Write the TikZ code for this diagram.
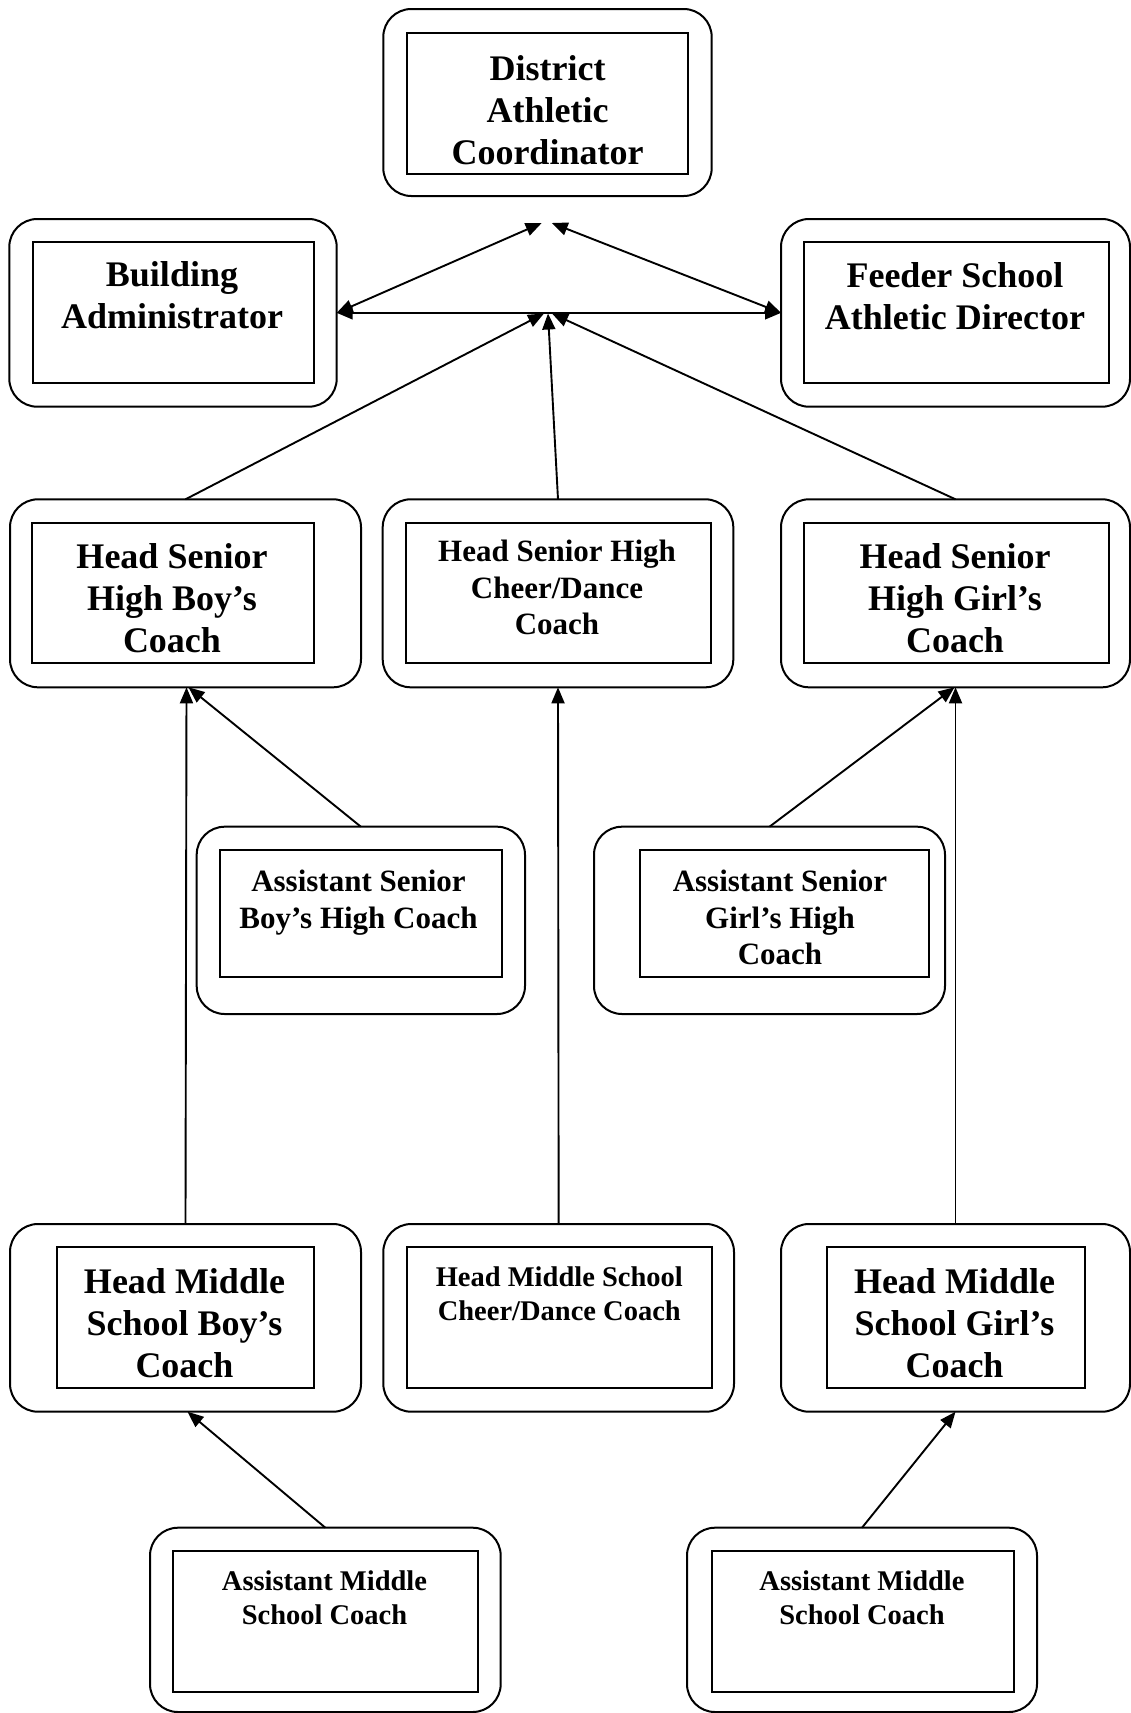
\documentclass[tikz,border=0pt]{standalone}
\usepackage{fontspec}
\setmainfont{Liberation Serif}
\usetikzlibrary{arrows.meta}
\newcommand\boxtext[1]{\begin{tabular}[t]{@{}c@{}}#1\end{tabular}}
\newcommand\tbig{\fontsize{36}{42}\selectfont\bfseries}
\newcommand\tmid{\fontsize{31}{36.5}\selectfont\bfseries}
\newcommand\tsml{\fontsize{28.5}{34}\selectfont\bfseries}
\begin{document}
\begin{tikzpicture}[x=1pt,y=-1pt,
  outerbox/.style={draw, line width=2pt, rounded corners=28pt, inner sep=0pt, outer sep=0pt},
  innerbox/.style={draw, line width=2pt, inner sep=0pt, outer sep=0pt},
  label/.style={anchor=base, inner sep=0pt, outer sep=0pt},
  conn/.style={line width=1.9pt},
  arr/.style={conn, -{Triangle[length=16pt,width=13pt]}},
  darr/.style={conn, {Triangle[length=16pt,width=13pt]}-{Triangle[length=16pt,width=13pt]}}]
\useasboundingbox (0,0) rectangle (1131,1713);

% outer rounded boxes
\node[outerbox, minimum width=328.4pt, minimum height=187pt]   (DAC) at (547.5,102.5) {};
\node[outerbox, minimum width=327.4pt, minimum height=187.7pt] (BA)  at (173,312.85) {};
\node[outerbox, minimum width=349pt,   minimum height=187.7pt] (FS)  at (955.5,312.85) {};
\node[outerbox, minimum width=351pt,   minimum height=188pt]   (HSB) at (185.5,593.3) {};
\node[outerbox, minimum width=350.6pt, minimum height=188pt]   (HSC) at (558,593.3) {};
\node[outerbox, minimum width=349pt,   minimum height=188pt]   (HSG) at (955.5,593.3) {};
\node[outerbox, minimum width=328.3pt, minimum height=187.3pt] (ASB) at (360.85,920.35) {};
\node[outerbox, minimum width=351pt,   minimum height=187.3pt] (ASG) at (769.5,920.35) {};
\node[outerbox, minimum width=351pt,   minimum height=187.7pt] (HMB) at (185.5,1317.85) {};
\node[outerbox, minimum width=350.7pt, minimum height=187.7pt] (HMC) at (558.65,1317.85) {};
\node[outerbox, minimum width=349pt,   minimum height=187.7pt] (HMG) at (955.5,1317.85) {};
\node[outerbox, minimum width=350.7pt, minimum height=184.3pt] (AMB) at (325.35,1619.85) {};
\node[outerbox, minimum width=350pt,   minimum height=184.3pt] (AMG) at (862,1619.85) {};

% inner rectangles
\node[innerbox, minimum width=281.6pt, minimum height=140.7pt] (DACi) at (547.5,103.7) {};
\node[innerbox, minimum width=281pt,   minimum height=141pt]   (BAi)  at (173.8,312.8) {};
\node[innerbox, minimum width=305pt,   minimum height=141pt]   (FSi)  at (956.5,312.8) {};
\node[innerbox, minimum width=282pt,   minimum height=140.6pt] (HSBi) at (173.3,593) {};
\node[innerbox, minimum width=304.7pt, minimum height=140.6pt] (HSCi) at (558.35,593) {};
\node[innerbox, minimum width=305pt,   minimum height=140.6pt] (HSGi) at (956.5,593) {};
\node[innerbox, minimum width=281.7pt, minimum height=126.7pt] (ASBi) at (360.85,913.35) {};
\node[innerbox, minimum width=289pt,   minimum height=126.7pt] (ASGi) at (784.7,913.35) {};
\node[innerbox, minimum width=257.6pt, minimum height=141pt]   (HMBi) at (185.5,1317.8) {};
\node[innerbox, minimum width=305pt,   minimum height=141pt]   (HMCi) at (559.2,1317.8) {};
\node[innerbox, minimum width=257.7pt, minimum height=141pt]   (HMGi) at (956.15,1317.8) {};
\node[innerbox, minimum width=305pt,   minimum height=140.7pt] (AMBi) at (325.8,1621.35) {};
\node[innerbox, minimum width=302.5pt, minimum height=140.7pt] (AMGi) at (862.75,1621.35) {};

% texts
\node[label] (DACt) at (547.5,80)   {\tbig\boxtext{District\\Athletic\\Coordinator}};
\node[label] (BAt)  at (172,286.5)  {\tbig\boxtext{Building\\Administrator}};
\node[label] (FSt)  at (955,287.5)  {\tbig\boxtext{Feeder School\\Athletic Director}};
\node[label] (HSBt) at (172,568.3)  {\tbig\boxtext{Head Senior\\High Boy’s\\Coach}};
\node[label] (HSCt) at (557,561.7)  {\tmid\boxtext{Head Senior High\\Cheer/Dance\\Coach}};
\node[label] (HSGt) at (955,568.3)  {\tbig\boxtext{Head Senior\\High Girl’s\\Coach}};
\node[label] (ASBt) at (358.5,891.7) {\tmid\boxtext{Assistant Senior\\Boy’s High Coach}};
\node[label] (ASGt) at (780,891.7)  {\tmid\boxtext{Assistant Senior\\Girl’s High\\Coach}};
\node[label] (HMBt) at (184.5,1293.3) {\tbig\boxtext{Head Middle\\School Boy’s\\Coach}};
\node[label] (HMCt) at (559.3,1286) {\tsml\boxtext{Head Middle School\\Cheer/Dance Coach}};
\node[label] (HMGt) at (954.5,1293.3) {\tbig\boxtext{Head Middle\\School Girl’s\\Coach}};
\node[label] (AMBt) at (324.5,1590) {\tsml\boxtext{Assistant Middle\\School Coach}};
\node[label] (AMGt) at (862,1590)   {\tsml\boxtext{Assistant Middle\\School Coach}};

% connector end points
\coordinate (dacL) at (541.7,223);
\coordinate (dacR) at (551.7,223);
\coordinate (hubL) at (544,313.5);
\coordinate (hubM) at (548,313.5);
\coordinate (hubR) at (552,313.5);

% connectors
\draw[darr] (BA.east) -- (dacL);
\draw[darr] (FS.west) -- (dacR);
\draw[darr] (BA.east) -- (FS.west);
\draw[arr] (HSB.north) -- (hubL);
\draw[arr] (HSC.north) -- (hubM);
\draw[arr] (HSG.north) -- (hubR);
\draw[arr] (ASB.north) -- ([xshift=3pt]HSB.south);
\draw[arr] (HMB.north) -- ([xshift=1pt]HSB.south);
\draw[arr] (HMC.north) -- (HSC.south);
\draw[arr] (ASG.north) -- ([xshift=-1pt]HSG.south);
\draw[arr] (HMG.north) -- (HSG.south);
\draw[arr] (AMB.north) -- ([xshift=2pt]HMB.south);
\draw[arr] (AMG.north) -- (HMG.south);
\end{tikzpicture}
\end{document}
